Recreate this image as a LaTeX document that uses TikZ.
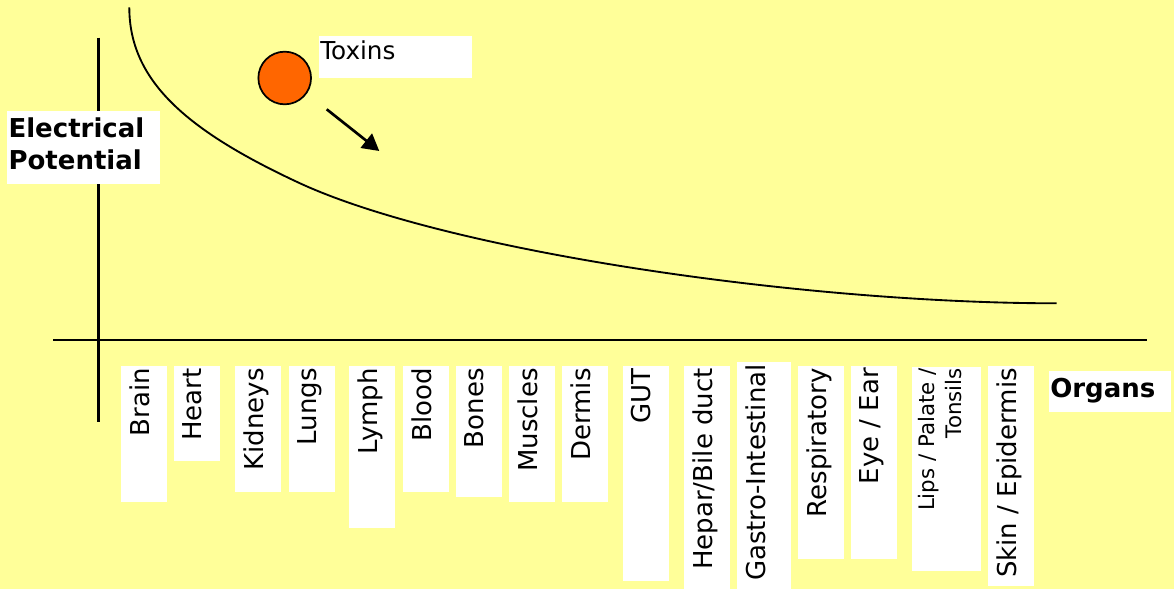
\documentclass[tikz,border=0pt]{standalone}
\usepackage{fontspec}
\setmainfont{DejaVu Sans}
\usetikzlibrary{arrows.meta}
\definecolor{bgyellow}{HTML}{FFFF99}
\definecolor{toxinorange}{HTML}{FF6600}
\begin{document}
\begin{tikzpicture}[x=0.75pt,y=-0.75pt,
		organ/.style={rotate=90, anchor=north east, inner sep=0pt, font=\fontsize{19.5}{23}\selectfont},
		axis/.style={line width=1.9pt},
		label/.style={inner sep=0pt, font=\bfseries\fontsize{19.5}{23.7}\selectfont}]
			%background
			\fill[bgyellow] (0,0) rectangle (1174,589);
			\useasboundingbox (0,0) rectangle (1174,589);
			%coordinates
			\coordinate (ytop) at (98.3,37.7);
			\coordinate (ybot) at (98.3,422);
			\coordinate (xleft) at (53.3,340);
			\coordinate (xright) at (1147.3,340);
			\coordinate (flowstart) at (326.7,109.3);
			\coordinate (flowend) at (379.3,151);
			%Axes
			\draw[axis] (ytop) -- (ybot);
			\draw[axis] (xleft) -- (xright);
			%Curve
			\draw[line width=1.4pt] (129.3,7.3) .. controls (129.3,80) and (185,130) .. (300,183.3)
				.. controls (450,252.3) and (806.7,303.3) .. (1056.7,303.3);
			%Toxins
			\node[circle, draw, line width=1.3pt, fill=toxinorange, minimum size=39.5pt, inner sep=0pt] (toxin) at (284.7,78) {};
			\fill[white] (319,36) rectangle (472,77.7);
			\node[anchor=base west, inner sep=0pt, font=\fontsize{18.5}{22}\selectfont] (toxlabel) at (320,59.3) {Toxins};
			\draw[line width=2pt, -{Triangle[length=12.5pt,width=13.5pt]}] (flowstart) -- (flowend);
			%Axis labels
			\fill[white] (7.3,111) rectangle (159.7,183.7);
			\node[label, anchor=north west, align=left] (ylabel) at (8.3,117.5) {Electrical\\Potential};
			\fill[white] (1049,371.3) rectangle (1171,411.7);
			\node[label, anchor=base west] (xlabel) at (1050,397.3) {Organs};
			%Organs
			\foreach \xl/\xr/\yt/\yb/\name [count=\i] in {121.3/167/366/501.7/Brain, 174/219.7/366/460.7/Heart,
				235.3/281/366/491.7/Kidneys, 289.3/335/366/491.7/Lungs, 349.3/395/366/527.7/Lymph,
				403.3/449/366/491.7/Blood, 456/501.7/366/496.7/Bones, 509.3/555/366/501.7/Muscles,
				562/607.7/366/501.7/Dermis, 623.3/669/366/580.7/GUT, 684/730/366/589/{Hepar/Bile duct},
				737/790.7/362/589/Gastro-Intestinal, 798/844/366/559/Respiratory, 851.3/896.7/366/559/{Eye / Ear},
				988.3/1033.7/366/585.7/{Skin / Epidermis}}{
				\fill[white] (\xl,\yt) rectangle (\xr,\yb);
				\node[organ] (organ\i) at (\xl+8,\yt+2) {\name};
			}
			\fill[white] (912,367.3) rectangle (981,570.7);
			\node[organ, align=right, font=\fontsize{16}{20.5}\selectfont] (lips) at (917.7,368) {Lips / Palate /\\Tonsils};
		\end{tikzpicture}
\end{document}
